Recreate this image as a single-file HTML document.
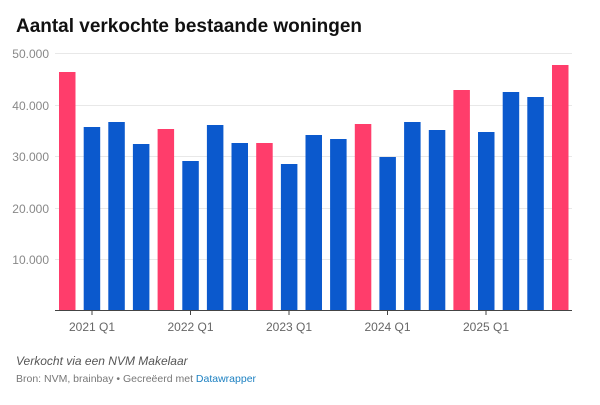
<!DOCTYPE html>
<html><head><meta charset="utf-8"><style>
body{margin:0;width:600px;height:400px;background:#fff;font-family:"Liberation Sans",sans-serif;overflow:hidden}
</style></head><body>
<svg width="600" height="400" xmlns="http://www.w3.org/2000/svg" font-family="Liberation Sans, sans-serif">
<text x="16" y="32" font-size="19" font-weight="bold" fill="#111" textLength="346" lengthAdjust="spacingAndGlyphs">Aantal verkochte bestaande woningen</text>
<g stroke="#e8e8e8" stroke-width="1">
<line x1="55" x2="572" y1="53.5" y2="53.5"/><line x1="55" x2="572" y1="105.5" y2="105.5"/>
<line x1="55" x2="572" y1="156.5" y2="156.5"/><line x1="55" x2="572" y1="208.5" y2="208.5"/>
<line x1="55" x2="572" y1="259.5" y2="259.5"/>
</g>
<g font-size="12" fill="#888" text-anchor="end">
<text x="49" y="58">50.000</text><text x="49" y="110">40.000</text><text x="49" y="161">30.000</text>
<text x="49" y="213">20.000</text><text x="49" y="264">10.000</text>
</g>
<g id="bars"></g>
<line x1="55" x2="572" y1="310.5" y2="310.5" stroke="#444" stroke-width="1"/>
<g stroke="#444"><line x1="92" x2="92" y1="310" y2="315"/><line x1="190.5" x2="190.5" y1="310" y2="315"/><line x1="289" x2="289" y1="310" y2="315"/><line x1="387.5" x2="387.5" y1="310" y2="315"/><line x1="486" x2="486" y1="310" y2="315"/></g>
<g font-size="12" fill="#666" text-anchor="middle">
<text x="92" y="331">2021 Q1</text><text x="190.5" y="331">2022 Q1</text><text x="289" y="331">2023 Q1</text><text x="387.5" y="331">2024 Q1</text><text x="486" y="331">2025 Q1</text>
</g>
<text x="16" y="365" font-size="12" font-style="italic" fill="#555">Verkocht via een NVM Makelaar</text>
<text x="16" y="382" font-size="10.5" fill="#777">Bron: NVM, brainbay • Gecreëerd met <tspan fill="#1d81c2">Datawrapper</tspan></text>
</svg>
<script>
var v=[72,127,122,144,129,161,125,143,143,164,135,139,124,157,122,130,90,132,92,97,65];
var g=document.getElementById('bars'),s='';
v.forEach(function(t,i){var x=59+i*24.65;s+='<rect x="'+x.toFixed(1)+'" y="'+t+'" width="16.5" height="'+(310-t)+'" fill="'+(i%4==0?'#ff3d6b':'#0b59cd')+'"/>';});
g.innerHTML=s;
</script>
</body></html>
